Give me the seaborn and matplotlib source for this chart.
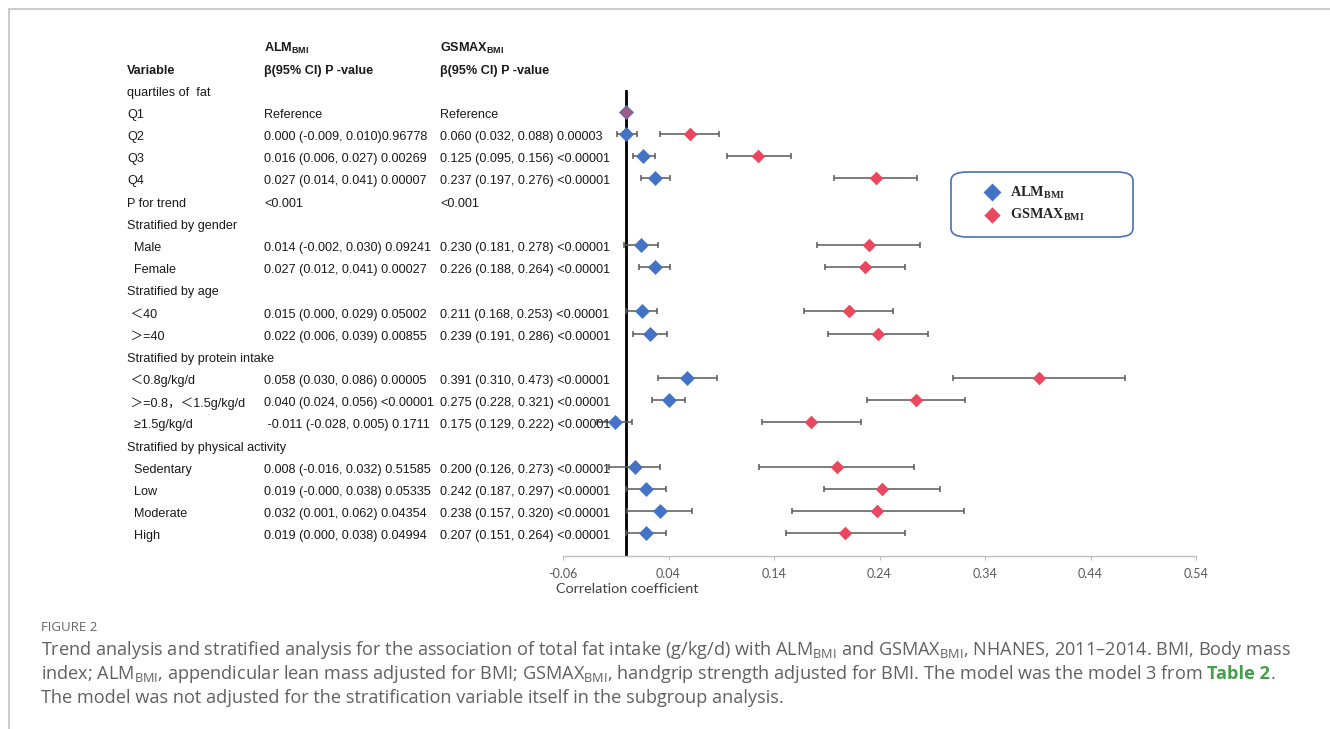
import numpy as np
import pandas as pd
import matplotlib
matplotlib.use("Agg")
import matplotlib.pyplot as plt
import matplotlib.transforms as mtransforms
from matplotlib.patches import FancyBboxPatch
from matplotlib.lines import Line2D
import seaborn as sns

# ---- data ----
row_labels = [
    "quartiles of  fat", "Q1", "Q2", "Q3", "Q4", "P for trend",
    "Stratified by gender", "  Male", "  Female",
    "Stratified by age", " ＜40", " ＞=40",
    "Stratified by protein intake", " ＜0.8g/kg/d", " ＞=0.8，＜1.5g/kg/d", "  ≥1.5g/kg/d",
    "Stratified by physical activity", "  Sedentary", "  Low", "  Moderate", "  High",
]
alm_text = [
    "", "Reference", "0.000 (-0.009, 0.010)0.96778", "0.016 (0.006, 0.027) 0.00269",
    "0.027 (0.014, 0.041) 0.00007", "<0.001",
    "", "0.014 (-0.002, 0.030) 0.09241", "0.027 (0.012, 0.041) 0.00027",
    "", "0.015 (0.000, 0.029) 0.05002", "0.022 (0.006, 0.039) 0.00855",
    "", "0.058 (0.030, 0.086) 0.00005", "0.040 (0.024, 0.056) <0.00001", " -0.011 (-0.028, 0.005) 0.1711",
    "", "0.008 (-0.016, 0.032) 0.51585", "0.019 (-0.000, 0.038) 0.05335",
    "0.032 (0.001, 0.062) 0.04354", "0.019 (0.000, 0.038) 0.04994",
]
gsmax_text = [
    "", "Reference", "0.060 (0.032, 0.088) 0.00003", "0.125 (0.095, 0.156) <0.00001",
    "0.237 (0.197, 0.276) <0.00001", "<0.001",
    "", "0.230 (0.181, 0.278) <0.00001", "0.226 (0.188, 0.264) <0.00001",
    "", "0.211 (0.168, 0.253) <0.00001", "0.239 (0.191, 0.286) <0.00001",
    "", "0.391 (0.310, 0.473) <0.00001", "0.275 (0.228, 0.321) <0.00001", "0.175 (0.129, 0.222) <0.00001",
    "", "0.200 (0.126, 0.273) <0.00001", "0.242 (0.187, 0.297) <0.00001",
    "0.238 (0.157, 0.320) <0.00001", "0.207 (0.151, 0.264) <0.00001",
]
nan = np.nan
alm_beta = [nan, 0.0, 0.000, 0.016, 0.027, nan, nan, 0.014, 0.027, nan, 0.015, 0.022,
            nan, 0.058, 0.040, -0.011, nan, 0.008, 0.019, 0.032, 0.019]
alm_lo = [nan, nan, -0.009, 0.006, 0.014, nan, nan, -0.002, 0.012, nan, 0.000, 0.006,
          nan, 0.030, 0.024, -0.028, nan, -0.016, -0.000, 0.001, 0.000]
alm_hi = [nan, nan, 0.010, 0.027, 0.041, nan, nan, 0.030, 0.041, nan, 0.029, 0.039,
          nan, 0.086, 0.056, 0.005, nan, 0.032, 0.038, 0.062, 0.038]
gs_beta = [nan, 0.0, 0.060, 0.125, 0.237, nan, nan, 0.230, 0.226, nan, 0.211, 0.239,
           nan, 0.391, 0.275, 0.175, nan, 0.200, 0.242, 0.238, 0.207]
gs_lo = [nan, nan, 0.032, 0.095, 0.197, nan, nan, 0.181, 0.188, nan, 0.168, 0.191,
         nan, 0.310, 0.228, 0.129, nan, 0.126, 0.187, 0.157, 0.151]
gs_hi = [nan, nan, 0.088, 0.156, 0.276, nan, nan, 0.278, 0.264, nan, 0.253, 0.286,
         nan, 0.473, 0.321, 0.222, nan, 0.273, 0.297, 0.320, 0.264]
x_ticks = [-0.06, 0.04, 0.14, 0.24, 0.34, 0.44, 0.54]
x_tick_labels = ["-0.06", "0.04", "0.14", "0.24", "0.34", "0.44", "0.54"]

BLUE = "#4472C4"
RED = "#E8495F"
W, H = 1330, 729

sns.set_theme(style="white")
plt.rcParams["axes.unicode_minus"] = False
plt.rcParams["mathtext.fontset"] = "custom"
plt.rcParams["mathtext.rm"] = "Open Sans"
plt.rcParams["mathtext.bf"] = "Liberation Sans:bold"
plt.rcParams["mathtext.sf"] = "Liberation Serif:bold"
TABLE_FONT = ["Liberation Sans", "Noto Sans CJK SC", "DejaVu Sans"]


def fx(px):
    return px / W


def fy(py):
    return 1 - py / H


fig = plt.figure(figsize=(W / 100, H / 100), dpi=100)
ax = fig.add_axes([fx(563), fy(555.5), fx(1196) - fx(563), fy(89.5) - fy(555.5)])

n = len(row_labels)
df = pd.DataFrame({
    "row": np.arange(n),
    "alm": alm_beta, "alm_lo": alm_lo, "alm_hi": alm_hi,
    "gs": gs_beta, "gs_lo": gs_lo, "gs_hi": gs_hi,
})

# reference line at zero
ax.axvline(0, color="black", lw=2, zorder=1)

# confidence intervals
for col, lo, hi in [("alm", "alm_lo", "alm_hi"), ("gs", "gs_lo", "gs_hi")]:
    d = df.dropna(subset=[lo])
    ax.errorbar(d[col], d["row"], xerr=[d[col] - d[lo], d[hi] - d[col]], fmt="none",
                ecolor="#595959", elinewidth=1.1, capsize=2.3, capthick=1.1, zorder=2)

# point estimates
ref = df[df["alm_lo"].isna() & df["alm"].notna()]
est = df.dropna(subset=["alm_lo"])
sns.scatterplot(data=df.dropna(subset=["alm"]), x="alm", y="row", marker="D", s=58,
                color=BLUE, linewidth=0, ax=ax, zorder=3, label="ALM$_{\\mathsf{BMI}}$")
sns.scatterplot(data=est, x="gs", y="row", marker="D", s=48,
                color=RED, linewidth=0, ax=ax, zorder=4, label="GSMAX$_{\\mathsf{BMI}}$")
sns.scatterplot(data=ref, x="gs", y="row", marker="D", s=40,
                color=RED, alpha=0.55, linewidth=0, ax=ax, zorder=4, legend=False)

ax.set_xlim(-0.06, 0.54)
ax.set_ylim(n, 0)
ax.set_yticks([])
ax.set_xticks(x_ticks)
ax.set_xticklabels(x_tick_labels, fontsize=9, color="#595959", family="Lato")
ax.tick_params(axis="x", length=3, width=0.8, color="#BFBFBF", pad=6, bottom=True)
for s in ["top", "left", "right"]:
    ax.spines[s].set_visible(False)
ax.spines["bottom"].set_color("#BFBFBF")
ax.spines["bottom"].set_linewidth(1)
ax.set_xlabel("")
ax.set_ylabel("")

# legend inside a rounded box
handles, labels = ax.get_legend_handles_labels()
leg = ax.legend(handles, labels, loc="upper left", bbox_to_anchor=(fx(976), fy(177)),
                bbox_transform=fig.transFigure, frameon=False, handletextpad=0.65,
                labelspacing=0.4, borderpad=0, handlelength=1.2, markerscale=1.2,
                prop={"family": "Liberation Serif", "weight": "bold", "size": 10.3})
box = FancyBboxPatch((fx(951), fy(237)), fx(1133) - fx(951), fy(172) - fy(237),
                     boxstyle="round,pad=0,rounding_size=0.012", transform=fig.transFigure,
                     facecolor="none", edgecolor="#4A6FB5", lw=1.2)
fig.add_artist(box)

# table text (x in figure px, y in data rows)
tr = mtransforms.blended_transform_factory(fig.transFigure, ax.transData)
TXT = dict(transform=tr, va="center", ha="left", fontsize=9.1, family=TABLE_FONT, color="#1a1a1a")
for i in range(n):
    fig.text(fx(127), i + 0.14, row_labels[i], **TXT)
    fig.text(fx(264), i + 0.14, alm_text[i], **TXT)
    fig.text(fx(440), i + 0.14, gsmax_text[i], **TXT)

hdr = dict(TXT, weight="bold")
fig.text(fx(127), -0.84, "Variable", **hdr)
fig.text(fx(264), -0.84, "β(95% CI) P -value", **hdr)
fig.text(fx(440), -0.84, "β(95% CI) P -value", **hdr)
fig.text(fx(264), -1.84, "ALM$_{\\mathbf{BMI}}$", **hdr)
fig.text(fx(440), -1.84, "GSMAX$_{\\mathbf{BMI}}$", **hdr)

fig.text(fx(556), fy(589), "Correlation coefficient", va="center", ha="left",
         fontsize=10.4, family="Lato", color="#404040")

# frame lines of the page
fig.add_artist(Line2D([fx(8.5), fx(8.5)], [0, fy(8.5)], transform=fig.transFigure,
                      color="#CCCCCC", lw=1.5))
fig.add_artist(Line2D([fx(8.5), 1], [fy(8.5), fy(8.5)], transform=fig.transFigure,
                      color="#CCCCCC", lw=1.5))

# caption
CAP = dict(va="baseline", ha="left", fontsize=13.1, family="Open Sans", color="#606060")
fig.text(fx(41), fy(631), "FIGURE 2", va="baseline", ha="left", fontsize=9.5,
         family="Open Sans", color="#666666")
fig.text(fx(41), fy(655),
         "Trend analysis and stratified analysis for the association of total fat intake (g/kg/d) "
         "with ALM$_{\\mathrm{BMI}}$ and GSMAX$_{\\mathrm{BMI}}$, NHANES, 2011–2014. BMI, Body mass", **CAP)
t2 = fig.text(fx(41), fy(679),
              "index; ALM$_{\\mathrm{BMI}}$, appendicular lean mass adjusted for BMI; "
              "GSMAX$_{\\mathrm{BMI}}$, handgrip strength adjusted for BMI. The model was the model 3 from",
              **CAP)
fig.text(fx(41), fy(703),
         "The model was not adjusted for the stratification variable itself in the subgroup analysis.", **CAP)
renderer = fig.canvas.get_renderer()
bb = t2.get_window_extent(renderer)
t3 = fig.text(bb.x1 / W + fx(5), fy(679), "Table 2", va="baseline", ha="left", fontsize=13.1,
              family="Open Sans", weight="bold", color="#43A047")
bb3 = t3.get_window_extent(renderer)
fig.text(bb3.x1 / W, fy(679), ".", **CAP)

fig.savefig("out.png", dpi=100)
